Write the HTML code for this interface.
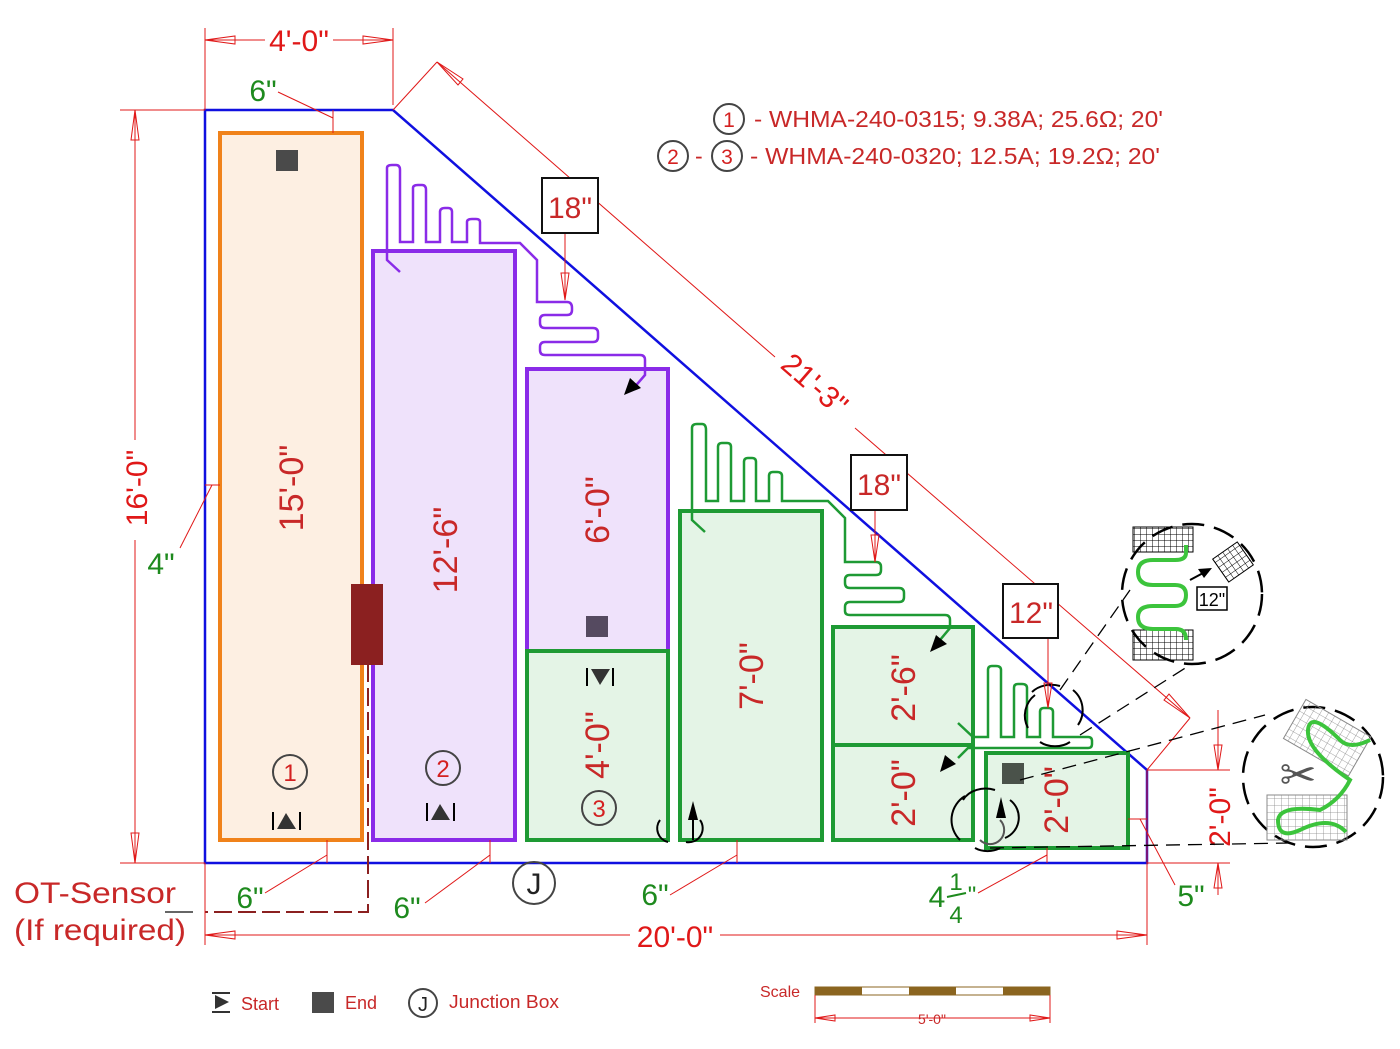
<!DOCTYPE html>
<html><head><meta charset="utf-8"><style>
html,body{margin:0;padding:0;background:#fff;}
svg{display:block;font-family:"Liberation Sans",sans-serif;}
</style></head><body>
<svg width="1400" height="1049" viewBox="0 0 1400 1049" xmlns="http://www.w3.org/2000/svg">
<defs>
<pattern id="grid" width="6" height="6" patternUnits="userSpaceOnUse"><path d="M0 0H6M0 0V6" stroke="#000" stroke-width="1" fill="none"/></pattern>
<pattern id="grid2" width="7" height="7" patternUnits="userSpaceOnUse"><path d="M0 0H7M0 0V7" stroke="#888" stroke-width="0.8" fill="none"/></pattern>
</defs>

<polygon points="205,110 393,110 1147,770 1147,863 205,863" fill="none" stroke="#1010e0" stroke-width="2.5"/>

<rect x="220" y="133" width="142" height="707" fill="#fdefe2" stroke="#f0821a" stroke-width="4"/>
<rect x="373" y="251" width="142" height="589" fill="#efe2fb" stroke="#8a2be8" stroke-width="4"/>
<rect x="527" y="369" width="141" height="282" fill="#efe2fb" stroke="#8a2be8" stroke-width="4"/>
<rect x="527" y="651" width="141" height="189" fill="#e4f4e6" stroke="#1e9a34" stroke-width="4"/>
<rect x="680" y="511" width="142" height="329" fill="#e4f4e6" stroke="#1e9a34" stroke-width="4"/>
<rect x="833" y="627" width="140" height="118" fill="#e4f4e6" stroke="#1e9a34" stroke-width="4"/>
<rect x="833" y="745" width="140" height="95" fill="#e4f4e6" stroke="#1e9a34" stroke-width="4"/>
<rect x="986" y="753" width="142" height="95" fill="#e4f4e6" stroke="#1e9a34" stroke-width="4"/>

<path d="M400,272 L387,260 V168 Q387,165 392,165 H396 Q400,165 400,170 V242 H413 V188 Q413,185 418,185 H422 Q426,185 426,190 V242 H440 V212 Q440,208 445,208 H448 Q452,208 452,212 V242 H467 V222 Q467,219 472,219 H476 Q480,219 480,222 V243 H520 L537,260 V302 H567 Q572,302 572,308 V310 Q572,315 567,315 H545 Q540,315 540,320 V323 Q540,328 545,328 H593 Q598,328 598,333 V337 Q598,342 593,342 H545 Q540,342 540,347 V350 Q540,355 545,355 H640 Q645,355 645,360 V375 L632,390" fill="none" stroke="#8a2be8" stroke-width="2.5"/>
<polygon points="624,395 630,378 641,388" fill="#000"/>

<path d="M705,532 L692,520 V428 Q692,424 697,424 H702 Q706,424 706,430 V501 H718 V447 Q718,443 722,443 H727 Q731,443 731,447 V501 H744 V462 Q744,458 748,458 H752 Q756,458 756,462 V501 H769 V476 Q769,472 773,472 H777 Q782,472 782,476 V501 H828 L845,518 V562 H876 Q881,562 881,567 V570 Q881,575 876,575 H850 Q845,575 845,580 V583 Q845,588 850,588 H899 Q904,588 904,593 V597 Q904,602 899,602 H850 Q845,602 845,607 V611 Q845,615 850,615 H945 Q950,615 950,620 V628 L940,640" fill="none" stroke="#1e9a34" stroke-width="2.5"/>
<polygon points="930,652 936,635 947,644" fill="#000"/>
<path d="M958,723 L973,737 H988 V670 Q988,666 992,666 H996 Q1001,666 1001,670 V737 H1014 V688 Q1014,684 1018,684 H1022 Q1027,684 1027,688 V737 H1040 V712 Q1040,708 1044,708 H1048 Q1053,708 1053,712 V737 H1088 Q1092,737 1092,741 V744 Q1092,748 1088,748 H968 L958,758" fill="none" stroke="#1e9a34" stroke-width="2.5"/>
<polygon points="940,772 945,755 956,764" fill="#000"/>

<path d="M660,820 A14,14 0 0 0 668,842" fill="none" stroke="#000" stroke-width="2"/>
<path d="M700,820 A14,14 0 0 1 686,842" fill="none" stroke="#000" stroke-width="2"/>
<polygon points="693,801 688,820 698,820" fill="#000"/>
<line x1="693" y1="815" x2="693" y2="840" stroke="#000" stroke-width="2"/>
<path d="M965,796 A28,28 0 0 0 960,840 M1010,800 A22,22 0 0 1 1005,838 M975,848 A20,14 0 0 0 1000,848 M963,800 A25,20 0 0 1 995,790" fill="none" stroke="#000" stroke-width="2"/>
<path d="M1000,820 A14,14 0 1 1 980,840" fill="none" stroke="#555" stroke-width="2"/>
<polygon points="1001,797 996,818 1006,818" fill="#000"/>
<path d="M1035,695 A26,26 0 0 0 1028,728 M1073,690 A26,26 0 0 1 1078,725 M1040,742 A22,16 0 0 0 1070,742 M1032,692 A25,20 0 0 1 1060,686" fill="none" stroke="#000" stroke-width="2"/>

<rect x="276" y="150" width="22" height="21" fill="#4a4a4a"/>
<rect x="586" y="616" width="22" height="21" fill="#554a60"/>
<rect x="1002" y="763" width="22" height="21" fill="#4a524a"/>

<rect x="351" y="584" width="32" height="81" fill="#8b2020"/>
<path d="M368,640 V912 H205" fill="none" stroke="#8b2020" stroke-width="2" stroke-dasharray="18,6"/>
<line x1="165" y1="912" x2="193" y2="912" stroke="#333" stroke-width="1.5"/>

<g stroke="#000" stroke-width="2"><line x1="273" y1="812" x2="273" y2="830"/><line x1="300" y1="812" x2="300" y2="830"/>
<line x1="427" y1="803" x2="427" y2="821"/><line x1="454" y1="803" x2="454" y2="821"/>
<line x1="587" y1="668" x2="587" y2="686"/><line x1="613" y1="668" x2="613" y2="686"/></g>
<polygon points="286,813 277,829 296,829" fill="#333"/>
<polygon points="440,804 431,820 450,820" fill="#333"/>
<polygon points="600,685 591,669 610,669" fill="#333"/>

<g fill="none" stroke="#444" stroke-width="2">
<circle cx="290" cy="772" r="17"/><circle cx="443" cy="768" r="17"/><circle cx="599" cy="808" r="17"/>
<circle cx="534" cy="883" r="21"/>
<circle cx="729" cy="119" r="15"/><circle cx="673" cy="156" r="15"/><circle cx="727" cy="156" r="15"/>
<circle cx="423" cy="1003" r="14"/>
</g>
<g fill="#d42020" font-size="24" text-anchor="middle">
<text x="290" y="781">1</text><text x="443" y="777">2</text><text x="599" y="817">3</text>
<text x="729" y="127" font-size="21">1</text><text x="673" y="164" font-size="21">2</text><text x="727" y="164" font-size="21">3</text>
</g>
<text x="534" y="894" font-size="30" fill="#222" text-anchor="middle">J</text>
<text x="423" y="1011" font-size="20" fill="#222" text-anchor="middle">J</text>

<g fill="#c82828" font-size="34" text-anchor="middle">
<text transform="translate(303,488) rotate(-90)">15'-0"</text>
<text transform="translate(457,550) rotate(-90)">12'-6"</text>
<text transform="translate(609,510) rotate(-90)">6'-0"</text>
<text transform="translate(609,745) rotate(-90)">4'-0"</text>
<text transform="translate(763,676) rotate(-90)">7'-0"</text>
<text transform="translate(915,688) rotate(-90)">2'-6"</text>
<text transform="translate(915,793) rotate(-90)">2'-0"</text>
<text transform="translate(1068,800) rotate(-90)">2'-0"</text>
</g>

<g stroke="#e01818" stroke-width="1" fill="none">
<line x1="205" y1="28" x2="205" y2="110"/><line x1="393" y1="28" x2="393" y2="105"/>
<line x1="205" y1="40" x2="265" y2="40"/><line x1="333" y1="40" x2="393" y2="40"/>
<polygon points="205,40 235,36 235,44"/><polygon points="393,40 363,36 363,44"/>
<line x1="120" y1="110" x2="205" y2="110"/><line x1="120" y1="863" x2="205" y2="863"/>
<line x1="135" y1="110" x2="135" y2="440"/><line x1="135" y1="540" x2="135" y2="863"/>
<polygon points="135,110 131,140 139,140"/><polygon points="135,863 131,833 139,833"/>
<line x1="205" y1="863" x2="205" y2="945"/><line x1="1147" y1="770" x2="1147" y2="945"/>
<line x1="205" y1="935" x2="630" y2="935"/><line x1="720" y1="935" x2="1147" y2="935"/>
<polygon points="205,935 235,931 235,939"/><polygon points="1147,935 1117,931 1117,939"/>
<line x1="393" y1="110" x2="437" y2="62"/><line x1="1147" y1="770" x2="1190" y2="718"/>
<line x1="437" y1="62" x2="775" y2="357"/><line x1="855" y1="428" x2="1190" y2="718"/>
<polygon points="437,62 458,85 463,79"/><polygon points="1190,718 1164,700 1169,694"/>
<line x1="1147" y1="770" x2="1230" y2="770"/><line x1="1147" y1="863" x2="1230" y2="863"/>
<line x1="1218" y1="710" x2="1218" y2="770"/><line x1="1218" y1="863" x2="1218" y2="895"/>
<polygon points="1218,770 1214,745 1222,745"/><polygon points="1218,863 1214,888 1222,888"/>
<line x1="565" y1="233" x2="565" y2="300"/><polygon points="565,300 561,273 569,273"/>
<line x1="875" y1="510" x2="875" y2="562"/><polygon points="875,562 871,535 879,535"/>
<line x1="1048" y1="638" x2="1048" y2="708"/><polygon points="1048,708 1044,683 1052,683"/>
<line x1="278" y1="92" x2="333" y2="118"/><line x1="333" y1="110" x2="333" y2="133"/>
<line x1="205" y1="485" x2="220" y2="485"/><line x1="212" y1="485" x2="180" y2="548"/>
<line x1="327" y1="840" x2="327" y2="863"/><line x1="327" y1="855" x2="265" y2="893"/>
<line x1="490" y1="840" x2="490" y2="863"/><line x1="490" y1="855" x2="425" y2="903"/>
<line x1="737" y1="840" x2="737" y2="863"/><line x1="737" y1="855" x2="670" y2="895"/>
<line x1="1047" y1="848" x2="1047" y2="863"/><line x1="1047" y1="855" x2="978" y2="893"/>
<line x1="1128" y1="819" x2="1147" y2="819"/><line x1="1140" y1="819" x2="1175" y2="885"/>
</g>
<g fill="#e01818" font-size="30" text-anchor="middle">
<text x="299" y="51">4'-0"</text>
<text x="675" y="947">20'-0"</text>
<text transform="translate(147,488) rotate(-90)">16'-0"</text>
<text transform="translate(1230,817) rotate(-90)">2'-0"</text>
<text transform="translate(808,392) rotate(41)">21'-3"</text>
</g>

<g fill="#fff" stroke="#111" stroke-width="2">
<rect x="542" y="178" width="56" height="55"/><rect x="851" y="455" width="56" height="55"/><rect x="1003" y="584" width="55" height="54"/>
</g>
<g fill="#c82828" font-size="30" text-anchor="middle">
<text x="570" y="218">18"</text><text x="879" y="495">18"</text><text x="1031" y="623">12"</text>
</g>

<g fill="#1e8a1e" font-size="30" text-anchor="middle">
<text x="263" y="101">6"</text><text x="161" y="574">4"</text><text x="250" y="908">6"</text><text x="407" y="918">6"</text><text x="655" y="905">6"</text><text x="1191" y="906">5"</text>
<text x="937" y="907">4</text><text x="956" y="890" font-size="24">1</text><text x="956" y="923" font-size="24">4</text><text x="972" y="903" font-size="24">"</text>
</g>
<line x1="947" y1="897" x2="966" y2="893" stroke="#1e8a1e" stroke-width="2"/>

<g fill="#c82828" font-size="23">
<text x="754" y="127" textLength="409" lengthAdjust="spacingAndGlyphs">- WHMA-240-0315; 9.38A; 25.6Ω; 20'</text>
<text x="695" y="164">-</text>
<text x="750" y="164" textLength="410" lengthAdjust="spacingAndGlyphs">- WHMA-240-0320; 12.5A; 19.2Ω; 20'</text>
</g>

<g fill="#c82828" font-size="30"><text x="14" y="903" textLength="162" lengthAdjust="spacingAndGlyphs">OT-Sensor</text><text x="14" y="940" textLength="172" lengthAdjust="spacingAndGlyphs">(If required)</text></g>

<g stroke="#000" stroke-width="1.3" fill="none" stroke-dasharray="14,8">
<line x1="1060" y1="690" x2="1130" y2="590"/>
<line x1="1080" y1="735" x2="1190" y2="665"/>
<line x1="1020" y1="780" x2="1265" y2="715"/>
<line x1="990" y1="848" x2="1290" y2="843"/>
</g>
<circle cx="1192" cy="594" r="70" fill="none" stroke="#000" stroke-width="2.5" stroke-dasharray="22,10"/>
<rect x="1133" y="527" width="60" height="25" fill="url(#grid)" stroke="#000"/>
<rect x="1133" y="630" width="60" height="30" fill="url(#grid)" stroke="#000"/>
<rect x="1218" y="548" width="30" height="28" fill="url(#grid)" stroke="#000" transform="rotate(-35 1233 562)"/>
<path d="M1186,545 V553 Q1186,560 1175,560 H1153 Q1138,560 1138,572 Q1138,585 1153,585 H1175 Q1186,585 1186,595 Q1186,606 1175,606 H1153 Q1138,606 1138,617 Q1138,629 1153,629 H1176 Q1186,629 1186,640" fill="none" stroke="#3cc43c" stroke-width="4"/>
<line x1="1190" y1="580" x2="1205" y2="572" stroke="#000" stroke-width="2"/><polygon points="1212,568 1198,569 1204,578" fill="#000"/>
<rect x="1197" y="587" width="30" height="23" fill="#fff" stroke="#000" stroke-width="1.5"/>
<text x="1212" y="606" font-size="18" text-anchor="middle">12"</text>

<circle cx="1313" cy="777" r="70" fill="none" stroke="#000" stroke-width="2.5" stroke-dasharray="22,10"/>
<rect x="1290" y="715" width="75" height="45" fill="url(#grid2)" stroke="#888" transform="rotate(30 1327 737)"/>
<rect x="1267" y="795" width="80" height="45" fill="url(#grid2)" stroke="#888"/>
<path d="M1370,740 Q1350,750 1340,740 Q1310,710 1308,730 Q1306,750 1350,780 Q1340,800 1320,810 Q1280,805 1278,820 Q1278,840 1300,830 Q1330,815 1346,832" fill="none" stroke="#3cc43c" stroke-width="4"/>
<text x="1298" y="790" font-size="44" fill="#555" text-anchor="middle">✂</text>

<polygon points="215,995 229,1002 215,1009" fill="#333"/><line x1="212" y1="993" x2="230" y2="993" stroke="#333" stroke-width="2"/><line x1="212" y1="1012" x2="230" y2="1012" stroke="#333" stroke-width="2"/>
<text x="241" y="1010" font-size="18" fill="#c82828">Start</text>
<rect x="312" y="992" width="22" height="21" fill="#4a4a4a"/>
<text x="345" y="1009" font-size="18" fill="#c82828">End</text>
<text x="449" y="1008" font-size="18" fill="#c82828" textLength="110" lengthAdjust="spacingAndGlyphs">Junction Box</text>

<text x="760" y="997" font-size="16" fill="#c82828">Scale</text>
<rect x="815" y="987" width="235" height="8" fill="#fff" stroke="#8b6520" stroke-width="1"/>
<g fill="#8b6520"><rect x="815" y="987" width="47" height="8"/><rect x="909" y="987" width="47" height="8"/><rect x="1003" y="987" width="47" height="8"/></g>
<g stroke="#e01818" stroke-width="1" fill="none">
<line x1="815" y1="995" x2="815" y2="1023"/><line x1="1050" y1="995" x2="1050" y2="1023"/>
<line x1="815" y1="1018" x2="1050" y2="1018"/><polygon points="815,1018 835,1015 835,1021"/><polygon points="1050,1018 1030,1015 1030,1021"/>
</g>
<text x="932" y="1024" font-size="14" fill="#c82828" text-anchor="middle">5'-0"</text>
</svg>
</body></html>
